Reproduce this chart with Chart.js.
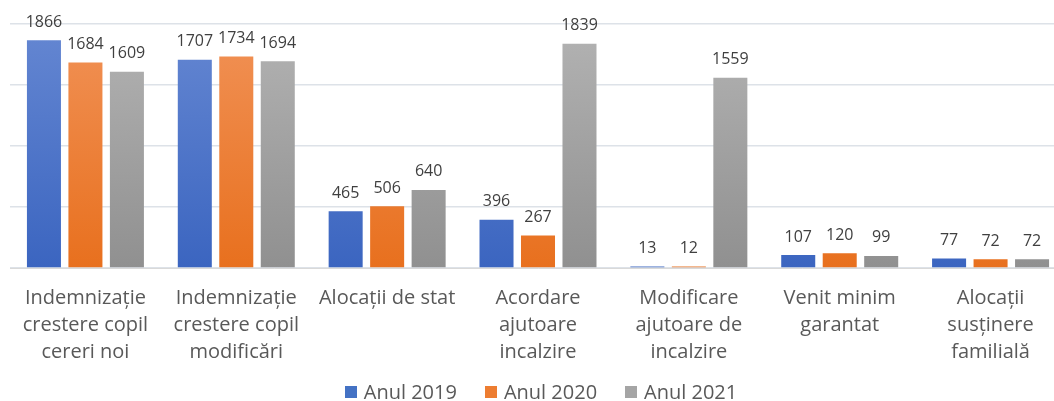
<!DOCTYPE html>
<html>
<head>
    <title>Beneficii sociale</title>
    <script src="https://cdn.jsdelivr.net/npm/chart.js"></script>
    <style>
        html, body {
            margin: 0;
            padding: 0;
            background: white;
            overflow: hidden;
        }

        .chart-container {
            position: relative;
            width: 1072px;
            height: 401px;
        }

        .legend {
            position: absolute;
            left: 0;
            width: 1082px;
            top: 379px;
            display: flex;
            justify-content: center;
            font-family: 'Open Sans';
            font-size: 20px;
            line-height: 26px;
            color: #595959;
        }

        .legend-item {
            display: flex;
            align-items: center;
            margin: 0 14px;
        }

        .legend-box {
            width: 12px;
            height: 12px;
            margin-right: 7px;
        }
    </style>
</head>
<body>
    <div class="chart-container">
        <canvas id="benefitsChart"></canvas>
        <div class="legend" id="legend"></div>
    </div>

    <script>
        const categories = [
            ['Indemnizație', 'crestere copil', 'cereri noi'],
            ['Indemnizație', 'crestere copil', 'modificări'],
            'Alocații de stat',
            ['Acordare', 'ajutoare', 'incalzire'],
            ['Modificare', 'ajutoare de', 'incalzire'],
            ['Venit minim', 'garantat'],
            ['Alocații', 'susținere', 'familială']
        ];
        const values2019 = [1866, 1707, 465, 396, 13, 107, 77];
        const values2020 = [1684, 1734, 506, 267, 12, 120, 72];
        const values2021 = [1609, 1694, 640, 1839, 1559, 99, 72];
        const seriesNames = ['Anul 2019', 'Anul 2020', 'Anul 2021'];

        // top / bottom colours of each series gradient
        const shades = [
            ['#6587d2', '#3b65c0'],
            ['#f19257', '#e8701e'],
            ['#b3b3b3', '#909090']
        ];
        const solid = ['#4472c4', '#ed7d31', '#a5a5a5'];

        function barGradient(i) {
            return (ctx) => {
                const area = ctx.chart.chartArea;
                if (!area) return solid[i];
                const g = ctx.chart.ctx.createLinearGradient(0, area.top, 0, area.bottom);
                g.addColorStop(0, shades[i][0]);
                g.addColorStop(1, shades[i][1]);
                return g;
            };
        }

        const valueLabels = {
            id: 'valueLabels',
            afterDatasetsDraw(chart) {
                const ctx = chart.ctx;
                ctx.save();
                ctx.font = '16px "Open Sans"';
                ctx.fillStyle = '#404040';
                ctx.textAlign = 'center';
                ctx.textBaseline = 'bottom';
                chart.data.datasets.forEach((ds, i) => {
                    chart.getDatasetMeta(i).data.forEach((bar, j) => {
                        ctx.fillText(ds.data[j], bar.x, bar.y - 10);
                    });
                });
                ctx.restore();
            }
        };

        const series = [values2019, values2020, values2021];

        new Chart(document.getElementById('benefitsChart'), {
            type: 'bar',
            data: {
                labels: categories,
                datasets: series.map((vals, i) => ({
                    label: seriesNames[i],
                    data: vals,
                    backgroundColor: barGradient(i),
                    borderWidth: 0,
                    barPercentage: 0.82,
                    categoryPercentage: 0.825
                }))
            },
            options: {
                responsive: true,
                maintainAspectRatio: false,
                animation: false,
                layout: {
                    padding: { left: 10, right: 6, top: 24, bottom: 26 }
                },
                plugins: {
                    tooltip: { enabled: false },
                    legend: { display: false }
                },
                scales: {
                    x: {
                        grid: { display: false },
                        border: { display: true, color: '#d9d9d9' },
                        ticks: {
                            color: '#595959',
                            font: { family: 'Open Sans', size: 20, lineHeight: 1.35 },
                            padding: 9,
                            maxRotation: 0,
                            autoSkip: false
                        }
                    },
                    y: {
                        min: 0,
                        max: 2000,
                        ticks: { display: false, stepSize: 500 },
                        border: { display: false },
                        grid: { color: '#dde2e8', lineWidth: 1.5, drawTicks: false }
                    }
                }
            },
            plugins: [valueLabels]
        });

        document.getElementById('legend').innerHTML = seriesNames.map((name, i) =>
            `<div class="legend-item"><span class="legend-box" style="background:${solid[i]}"></span>${name}</div>`
        ).join('');
    </script>
</body>
</html>
